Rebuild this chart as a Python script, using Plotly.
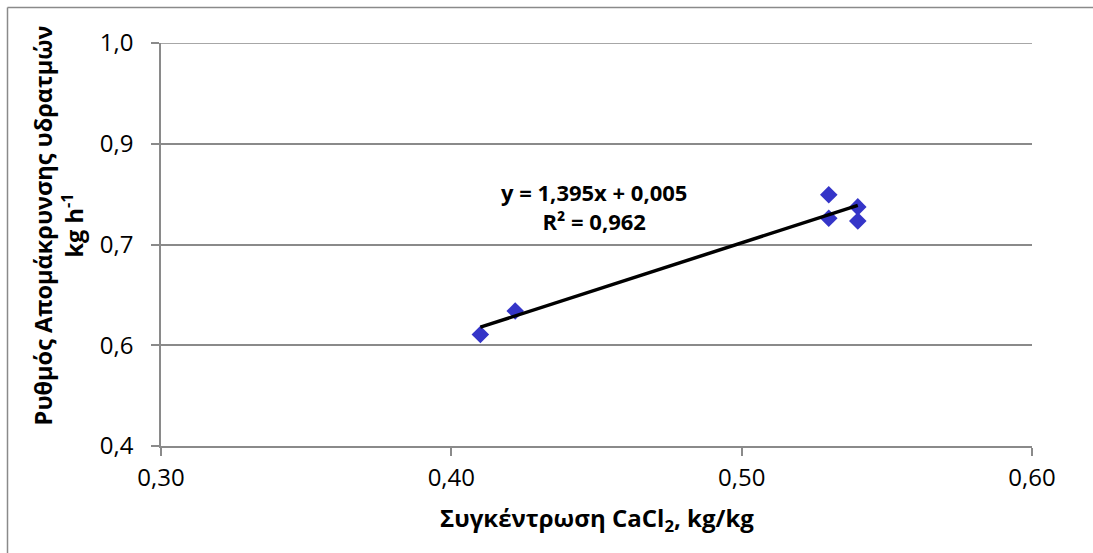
import plotly.graph_objects as go

# Measured points: CaCl2 concentration (kg/kg) vs moisture removal rate (kg/h)
conc = [0.410, 0.422, 0.530, 0.530, 0.540, 0.540]
rate = [0.566, 0.601, 0.774, 0.739, 0.756, 0.735]

# Linear trendline as stated in the equation label
slope = 1.395
intercept = 0.005
r_squared = 0.962
fit_x = [min(conc), max(conc)]
fit_y = [slope * x + intercept for x in fit_x]

x_ticks = [0.30, 0.40, 0.50, 0.60]
x_tick_text = ["0,30", "0,40", "0,50", "0,60"]
y_ticks = [0.40, 0.55, 0.70, 0.85, 1.00]
y_tick_text = ["0,4", "0,6", "0,7", "0,9", "1,0"]

GRID = "#8a8a8a"
FONT = "Open Sans, Noto Sans, sans-serif"

fig = go.Figure()
fig.add_trace(go.Scatter(
    x=conc, y=rate, mode="markers",
    marker=dict(symbol="diamond", size=13.5, color="#3535c8", line=dict(width=0)),
    showlegend=False,
))
fig.add_trace(go.Scatter(
    x=fit_x, y=fit_y, mode="lines",
    line=dict(color="black", width=3.5),
    showlegend=False,
))

eq_text = "y = {:,.3f}x + {:,.3f}".format(slope, intercept).replace(".", ",")
r2_text = "R² = {:.3f}".format(r_squared).replace(".", ",")
fig.add_annotation(
    x=0.449, y=0.757, xref="x", yref="y",
    text="<b>" + eq_text + "</b><br><b>" + r2_text + "</b>",
    showarrow=False, align="center", xanchor="center", yanchor="middle",
    font=dict(family=FONT, size=22, color="black"),
)

# Axis titles
fig.add_annotation(
    x=0.5, y=-0.18, xref="paper", yref="paper",
    text="<b>Συγκέντρωση CaCl<sub>2</sub>, kg/kg</b>",
    showarrow=False, xanchor="center", yanchor="middle",
    font=dict(family=FONT, size=24, color="black"),
)
fig.add_annotation(
    x=-0.118, y=0.548, xref="paper", yref="paper",
    text="<b>Ρυθμός Απομάκρυνσης υδρατμών</b><br><b>kg h<sup>-1</sup></b>",
    textangle=-90, showarrow=False, xanchor="center", yanchor="middle",
    align="center",
    font=dict(family=FONT, size=23.5, color="black"),
)

# Top gridline at the upper end of the value axis
fig.add_shape(type="line", xref="paper", yref="y",
              x0=0, x1=1, y0=y_ticks[-1], y1=y_ticks[-1],
              line=dict(color=GRID, width=1.5))

# Chart frame (left and top edges)
fig.add_shape(type="line", xref="paper", yref="paper",
              x0=(7.5 - 161) / 871, x1=(7.5 - 161) / 871,
              y0=(446 - 7.5) / 403, y1=(446 - 560) / 403,
              line=dict(color=GRID, width=1.5))
fig.add_shape(type="line", xref="paper", yref="paper",
              x0=(7.5 - 161) / 871, x1=(1100 - 161) / 871,
              y0=(446 - 7.5) / 403, y1=(446 - 7.5) / 403,
              line=dict(color=GRID, width=1.5))

fig.update_xaxes(
    range=[0.30, 0.60], tickvals=x_ticks, ticktext=x_tick_text,
    showgrid=False, zeroline=False,
    showline=True, linecolor=GRID, linewidth=1.5,
    ticks="outside", ticklen=8, tickcolor=GRID, tickwidth=1.5,
    ticklabelstandoff=1,
    tickfont=dict(family=FONT, size=24, color="black"),
)
fig.update_yaxes(
    range=[0.40, 1.00], tickvals=y_ticks, ticktext=y_tick_text,
    showgrid=True, gridcolor=GRID, gridwidth=1.5, zeroline=False,
    showline=True, linecolor=GRID, linewidth=1.5,
    ticks="outside", ticklen=8, tickcolor=GRID, tickwidth=1.5,
    ticklabelstandoff=13,
    tickfont=dict(family=FONT, size=24, color="black"),
)

fig.update_layout(
    width=1093, height=553,
    margin=dict(l=161, r=61, t=43, b=107),
    paper_bgcolor="white", plot_bgcolor="white",
)

fig.write_html("out.html")
